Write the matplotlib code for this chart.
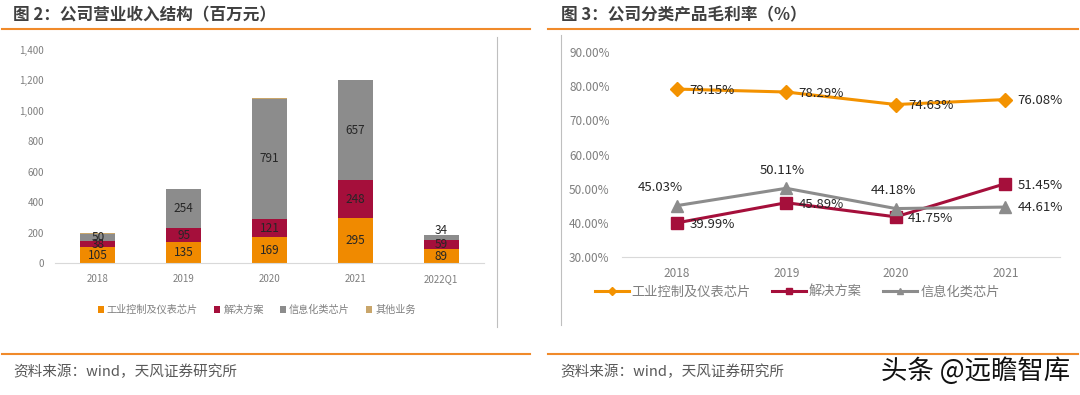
import matplotlib
matplotlib.use("Agg")
import matplotlib.pyplot as plt
from matplotlib.lines import Line2D
import numpy as np

plt.rcParams['font.family'] = ['Noto Sans CJK SC', 'DejaVu Sans']

# --- data: revenue structure (百万元)
years_rev = ['2018', '2019', '2020', '2021', '2022Q1']
industrial = [105, 135, 169, 295, 89]
solution = [38, 95, 121, 248, 59]
info_chip = [50, 254, 791, 657, 34]
other = [4, 4, 4, 5, 3]
rev_names = ['工业控制及仪表芯片', '解决方案', '信息化类芯片', '其他业务']

# --- data: gross margin (%)
years_gm = ['2018', '2019', '2020', '2021']
gm_industrial = [79.15, 78.29, 74.63, 76.08]
gm_solution = [39.99, 45.89, 41.75, 51.45]
gm_info = [45.03, 50.11, 44.18, 44.61]

c_orange = '#F08A00'
c_red = '#A50F3B'
c_gray = '#8C8C8C'
c_tan = '#C9A66B'
c_text = '#595959'
c_tick = '#7F7F7F'

fig = plt.figure(figsize=(10.8, 3.95), dpi=100)

# titles and frame lines
fig.text(13 / 1080, 1 - 15 / 395, '图 2：公司营业收入结构（百万元）', fontsize=12,
         fontweight='bold', color='#404040', va='center', ha='left')
fig.text(561 / 1080, 1 - 15 / 395, '图 3：公司分类产品毛利率（%）', fontsize=12,
         fontweight='bold', color='#404040', va='center', ha='left')
for x0, x1 in [(2, 530), (548, 1078)]:
    for y in (29, 354):
        fig.add_artist(Line2D([x0 / 1080, x1 / 1080], [1 - y / 395, 1 - y / 395],
                              color='#F08A2A', lw=1.5))
fig.add_artist(Line2D([497 / 1080] * 2, [1 - 37 / 395, 1 - 327 / 395], color='#BFBFBF', lw=0.8))
fig.add_artist(Line2D([561 / 1080] * 2, [1 - 35 / 395, 1 - 325 / 395], color='#BFBFBF', lw=0.8))

fig.text(13 / 1080, 1 - 372 / 395, '资料来源：wind，天风证券研究所', fontsize=10.5,
         color=c_text, va='center', ha='left')
fig.text(560 / 1080, 1 - 372 / 395, '资料来源：wind，天风证券研究所', fontsize=10.5,
         color=c_text, va='center', ha='left')
fig.text(1070 / 1080, 1 - 371 / 395, '头条 @远瞻智库', fontsize=19,
         color='#111111', va='center', ha='right')

# --- left: stacked bars
ax1 = fig.add_axes([55 / 1080, 1 - 263 / 395, 429 / 1080, 213 / 395])
x = np.arange(len(years_rev))
w = 0.41
ax1.bar(x, industrial, w, color=c_orange, label=rev_names[0])
bot = np.array(industrial)
ax1.bar(x, solution, w, bottom=bot, color=c_red, label=rev_names[1])
bot = bot + np.array(solution)
ax1.bar(x, info_chip, w, bottom=bot, color=c_gray, label=rev_names[2])
bot = bot + np.array(info_chip)
ax1.bar(x, other, w, bottom=bot, color=c_tan, label=rev_names[3])

base = np.zeros(len(x))
for vals in (industrial, solution, info_chip):
    for i, v in enumerate(vals):
        yc = base[i] + v / 2
        if i == 4 and vals is info_chip:
            yc = base[i] + v + other[i] + 30
        ax1.text(x[i], yc, str(v), ha='center', va='center', fontsize=8.5, color='#262626')
    base = base + np.array(vals)

ax1.set_xlim(-0.5, 4.5)
ax1.set_ylim(0, 1400)
ax1.set_yticks(range(0, 1401, 200))
ax1.set_yticklabels([f'{v:,}' for v in range(0, 1401, 200)])
ax1.set_xticks(x)
ax1.set_xticklabels(years_rev)
ax1.tick_params(length=0, labelsize=7, colors=c_tick, pad=8)
for s in ('top', 'right', 'left'):
    ax1.spines[s].set_visible(False)
ax1.spines['bottom'].set_color('#D9D9D9')
ax1.legend(loc='center', bbox_to_anchor=(0.47, -0.22), ncol=4, frameon=False,
           fontsize=7.3, labelcolor=c_tick, handlelength=0.6, handleheight=0.6,
           handletextpad=0.3, columnspacing=1.6)

# --- right: margin lines
ax2 = fig.add_axes([622 / 1080, 1 - 257 / 395, 438 / 1080, 205 / 395])
xg = np.arange(len(years_gm))
ax2.plot(xg, gm_industrial, color='#F39200', lw=2.2, marker='D', ms=7, label='工业控制及仪表芯片')
ax2.plot(xg, gm_solution, color=c_red, lw=2.2, marker='s', ms=8, label='解决方案')
ax2.plot(xg, gm_info, color=c_gray, lw=2.2, marker='^', ms=8, label='信息化类芯片')

lab_kw = dict(fontsize=9.5, color='#262626')
for i, v in enumerate(gm_industrial):
    ax2.annotate(f'{v:.2f}%', (xg[i], v), xytext=(9, -1), textcoords='offset points',
                 ha='left', va='center', **lab_kw)
for i, v in enumerate(gm_solution):
    ax2.annotate(f'{v:.2f}%', (xg[i], v), xytext=(9, -1),
                 textcoords='offset points', ha='left', va='center', **lab_kw)
info_dx = [-11.5, -3, -2]
for i, v in enumerate(gm_info):
    if i == 3:
        ax2.annotate(f'{v:.2f}%', (xg[i], v), xytext=(9, 0), textcoords='offset points',
                     ha='left', va='center', **lab_kw)
    else:
        ax2.annotate(f'{v:.2f}%', (xg[i], v), xytext=(info_dx[i], 13), textcoords='offset points',
                     ha='center', va='center', **lab_kw)

ax2.set_xlim(-0.5, 3.5)
ax2.set_ylim(30, 90)
ax2.set_yticks(range(30, 91, 10))
ax2.set_yticklabels([f'{v:.2f}%' for v in range(30, 91, 10)])
ax2.set_xticks(xg)
ax2.set_xticklabels(years_gm)
ax2.tick_params(length=0, labelsize=8.5, colors=c_tick, pad=7)
ax2.tick_params(axis='y', pad=9)
for s in ('top', 'right', 'left'):
    ax2.spines[s].set_visible(False)
ax2.spines['bottom'].set_color('#D9D9D9')
ax2.legend(loc='center', bbox_to_anchor=(0.4, -0.17), ncol=3, frameon=False,
           fontsize=9.5, labelcolor=c_tick, markerscale=0.55, handlelength=2.6,
           handletextpad=0.2, columnspacing=1.6)

fig.savefig('out.png', dpi=100)
